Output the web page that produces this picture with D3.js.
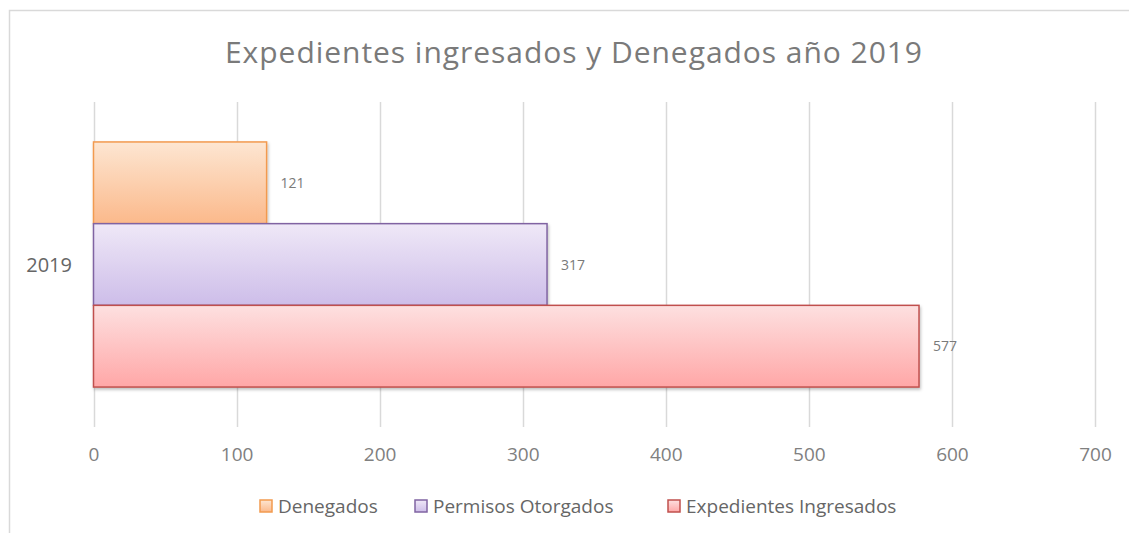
<!DOCTYPE html>
<html>
<head>
<meta charset="utf-8">
<script src="https://cdn.jsdelivr.net/npm/d3@7"></script>
<style>
  body { margin: 0; background: #fff; }
  text { font-family: "Open Sans", "Noto Sans", sans-serif; }
</style>
</head>
<body>
<div id="chart-area"></div>
<script>
// datos del grafico
var categories = ["2019"];
var seriesNames = ["Denegados", "Permisos Otorgados", "Expedientes Ingresados"];
var seriesValues = [121, 317, 577];
var xTicks = [0, 100, 200, 300, 400, 500, 600, 700];

var colors = [
    { top: "#fde6d2", bottom: "#fbb98b", stroke: "#f29a4f" },
    { top: "#efe8f7", bottom: "#cdbde9", stroke: "#8064a2" },
    { top: "#fde0e0", bottom: "#ffa7a7", stroke: "#c0504d" }
];

var W = 1129, H = 533;
var svg = d3.select("#chart-area")
    .append("svg")
    .attr("width", W)
    .attr("height", H);

var defs = svg.append("defs");
colors.forEach(function (c, i) {
    var g = defs.append("linearGradient")
        .attr("id", "grad" + i)
        .attr("x1", 0).attr("y1", 0).attr("x2", 0).attr("y2", 1);
    g.append("stop").attr("offset", "0%").attr("stop-color", c.top);
    g.append("stop").attr("offset", "100%").attr("stop-color", c.bottom);
});
var filt = defs.append("filter").attr("id", "shadow")
    .attr("x", "-5%").attr("y", "-10%").attr("width", "110%").attr("height", "130%");
filt.append("feDropShadow")
    .attr("dx", 1).attr("dy", 2).attr("stdDeviation", 1.5)
    .attr("flood-color", "#000").attr("flood-opacity", 0.25);

// marco del grafico
svg.append("path")
    .attr("d", "M9.5," + H + " V10.5 H" + W)
    .attr("fill", "none")
    .attr("stroke", "#d9d9d9")
    .attr("stroke-width", 1.5);

// titulo
svg.append("text")
    .attr("x", 225)
    .attr("y", 63)
    .attr("font-size", 30)
    .attr("textLength", 697)
    .attr("lengthAdjust", "spacing")
    .attr("fill", "#7a7a7a")
    .text("Expedientes  ingresados  y  Denegados  año  2019");

var x = d3.scaleLinear()
    .domain([0, 700])
    .range([93.5, 1095]);

var y0 = d3.scaleBand()
    .domain(categories)
    .range([102, 427])
    .paddingInner(0)
    .paddingOuter(0.163);

var y1 = d3.scaleBand()
    .domain(seriesNames)
    .range([0, y0.bandwidth()]);

// lineas de cuadricula
svg.append("g")
    .selectAll("line")
    .data(xTicks)
    .enter()
    .append("line")
    .attr("x1", function (d) { return Math.round(x(d)) + 0.5; })
    .attr("x2", function (d) { return Math.round(x(d)) + 0.5; })
    .attr("y1", 102)
    .attr("y2", 427)
    .attr("stroke", "#d9d9d9")
    .attr("stroke-width", 1.5);

// eje x
var xAxis = svg.append("g")
    .attr("transform", "translate(0,427)")
    .call(d3.axisBottom(x).tickValues(xTicks).tickSize(0).tickPadding(21));
xAxis.select(".domain").remove();
xAxis.selectAll("text")
    .attr("font-size", 19)
    .attr("font-family", "Open Sans, sans-serif")
    .attr("fill", "#808080");

// eje y
svg.append("g")
    .selectAll("text")
    .data(categories)
    .enter()
    .append("text")
    .attr("x", 72)
    .attr("y", function (d) { return y0(d) + y0.bandwidth() / 2 + 7; })
    .attr("text-anchor", "end")
    .attr("font-size", 20)
    .attr("fill", "#666")
    .text(function (d) { return d; });

// barras
svg.append("g")
    .selectAll("rect")
    .data(seriesValues)
    .enter()
    .append("rect")
    .attr("x", x(0))
    .attr("y", function (d, i) { return y0(categories[0]) + y1(seriesNames[i]); })
    .attr("width", function (d) { return x(d) - x(0); })
    .attr("height", y1.bandwidth())
    .attr("fill", function (d, i) { return "url(#grad" + i + ")"; })
    .attr("stroke", function (d, i) { return colors[i].stroke; })
    .attr("stroke-width", 1.5)
    .attr("filter", "url(#shadow)");

// etiquetas de datos
svg.append("g")
    .selectAll("text")
    .data(seriesValues)
    .enter()
    .append("text")
    .attr("x", function (d) { return x(d) + 14; })
    .attr("y", function (d, i) { return y0(categories[0]) + y1(seriesNames[i]) + y1.bandwidth() / 2 + 5; })
    .attr("font-size", 14)
    .attr("fill", "#7a7a7a")
    .text(function (d) { return d; });

// leyenda
var legendX = [260, 415, 668];
var legend = svg.append("g")
    .selectAll("g")
    .data(seriesNames)
    .enter()
    .append("g")
    .attr("transform", function (d, i) { return "translate(" + legendX[i] + ",500)"; });
legend.append("rect")
    .attr("width", 12)
    .attr("height", 12)
    .attr("fill", function (d, i) { return "url(#grad" + i + ")"; })
    .attr("stroke", function (d, i) { return colors[i].stroke; })
    .attr("stroke-width", 1.5);
legend.append("text")
    .attr("x", 18)
    .attr("y", 13)
    .attr("font-size", 19)
    .attr("fill", "#666")
    .text(function (d) { return d; });
</script>
</body>
</html>
